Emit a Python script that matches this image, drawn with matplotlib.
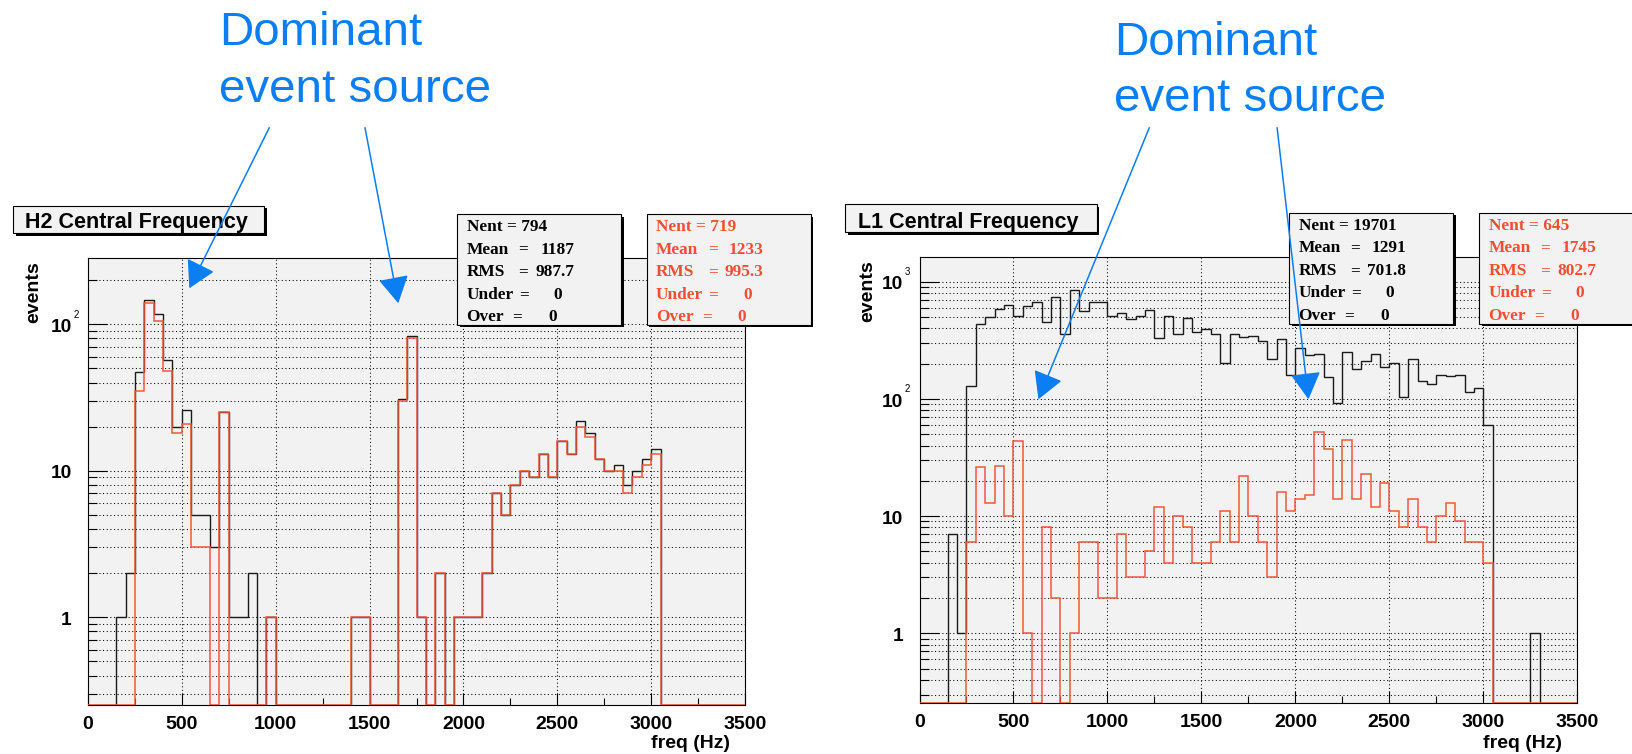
import numpy as np
import matplotlib
matplotlib.use("Agg")
import matplotlib.pyplot as plt
from matplotlib.patches import Rectangle, FancyArrowPatch
from matplotlib.ticker import LogLocator, NullFormatter, MultipleLocator, FixedLocator
from matplotlib.transforms import ScaledTranslation

# ---------------- data ----------------
bin_edges = np.arange(0, 3501, 50)          # 70 bins of 50 Hz

h2_all = [0, 0, 0, 1, 2, 47, 147, 117, 57, 20,
          26, 5, 5, 3, 25, 1, 1, 2, 0, 1,
          0, 0, 0, 0, 0, 0, 0, 0, 1, 1,
          0, 0, 0, 31, 83, 1, 0, 2, 0, 1,
          1, 1, 2, 7, 5, 8, 10, 9, 13, 9,
          16, 13, 22, 18, 12, 10, 11, 8, 10, 12,
          14, 0, 0, 0, 0, 0, 0, 0, 0, 0]
h2_sel = [0, 0, 0, 0, 0, 35, 140, 105, 48, 18,
          21, 3, 3, 0, 25, 0, 0, 0, 0, 1,
          0, 0, 0, 0, 0, 0, 0, 0, 1, 1,
          0, 0, 0, 30, 81, 1, 0, 2, 0, 1,
          1, 1, 2, 7, 5, 8, 10, 9, 13, 9,
          16, 13, 20, 17, 12, 10, 10, 7, 9, 11,
          13, 0, 0, 0, 0, 0, 0, 0, 0, 0]
l1_all = [0, 0, 0, 7, 1, 130, 435, 496, 580, 636,
          506, 620, 670, 453, 745, 357, 849, 565, 666, 666,
          509, 540, 480, 509, 569, 331, 513, 357, 486, 372,
          392, 355, 201, 357, 337, 344, 313, 217, 324, 160,
          273, 237, 243, 153, 92, 253, 179, 212, 240, 188,
          204, 104, 220, 142, 133, 160, 158, 160, 114, 125,
          60, 0, 0, 0, 0, 1, 0, 0, 0, 0]
l1_sel = [0, 0, 0, 0, 0, 6, 26, 13, 27, 10,
          44, 1, 0, 8, 2, 0, 1, 6, 6, 2,
          2, 7, 3, 3, 5, 12, 4, 10, 8, 4,
          4, 6, 11, 6, 22, 10, 6, 3, 16, 11,
          14, 15, 52, 37, 14, 45, 14, 23, 12, 19,
          11, 8, 14, 8, 6, 10, 13, 9, 6, 6,
          4, 0, 0, 0, 0, 0, 0, 0, 0, 0]

titles = ["H2 Central Frequency", "L1 Central Frequency"]
x_ticks = [0, 500, 1000, 1500, 2000, 2500, 3000, 3500]
x_title = "freq (Hz)"
y_title = "events"
annot_lines = ["Dominant", "event source"]

stat_labels = ["Mean", "RMS", "Under", "Over"]
h2_all_stats = ["Nent = 794", "1187", "987.7", "0", "0"]
h2_sel_stats = ["Nent = 719", "1233", "995.3", "0", "0"]
l1_all_stats = ["Nent = 19701", "1291", "701.8", "0", "0"]
l1_sel_stats = ["Nent = 645", "1745", "802.7", "0", "0"]

# ---------------- style ----------------
W, H, DPI = 1632, 754, 100
SANS = ["Liberation Sans", "DejaVu Sans"]
SERIF = ["Liberation Serif", "DejaVu Serif"]
BLACK = "#1a1a1a"
RED = "#f0583c"
RED_TXT = "#f04e32"
BLUE = "#0a7ef2"
FACE = "#f2f2f2"

fig = plt.figure(figsize=(W / DPI, H / DPI), dpi=DPI)


def X(x):
    return x / W


def Y(y):
    return 1 - y / H


def box(x0, y0, x1, y1, sh=2.5, z=2):
    fig.add_artist(Rectangle((X(x0 + sh), Y(y1 + sh)), (x1 - x0) / W, (y1 - y0) / H,
                             transform=fig.transFigure, facecolor="black",
                             edgecolor="none", zorder=z))
    fig.add_artist(Rectangle((X(x0), Y(y1)), (x1 - x0) / W, (y1 - y0) / H,
                             transform=fig.transFigure, facecolor=FACE,
                             edgecolor="black", lw=0.8, zorder=z + 0.1))


def stats_box(x0, y0, lines, color):
    box(x0, y0, x0 + 164, y0 + 111)
    fs = 12.4
    kw = dict(transform=fig.transFigure, fontsize=fs, fontweight="bold",
              family=SERIF, color=color, va="baseline", zorder=4)
    base = y0 + 16.9
    step = 22.6
    fig.text(X(x0 + 9.3), Y(base), lines[0], ha="left", **kw)
    eq_off = [61.0, 61.0, 61.7, 55.3]
    val_off = [116.7, 116.7, 105.0, 99.3]
    for i, lab in enumerate(stat_labels):
        yb = base + step * (i + 1)
        fig.text(X(x0 + 9.3), Y(yb), lab, ha="left", **kw)
        fig.text(X(x0 + eq_off[i]), Y(yb), "=", ha="left", **kw)
        fig.text(X(x0 + val_off[i]), Y(yb), lines[i + 1], ha="right", **kw)


def panel(rect, all_counts, sel_counts, ylim, decades, ylab_x, ylab_top,
          xtitle_right, xtitle_base):
    ax = fig.add_axes(rect)
    ax.set_facecolor(FACE)
    ax.set_yscale("log")
    ax.set_xlim(0, 3500)
    ax.set_ylim(*ylim)
    lo = ylim[0]
    a = np.asarray(all_counts, float)
    s = np.asarray(sel_counts, float)
    ax.stairs(np.where(a > 0, a, lo), bin_edges, baseline=lo, color=BLACK, lw=1.0, zorder=3)
    ax.stairs(np.where(s > 0, s, lo), bin_edges, baseline=lo, color=RED, lw=1.1, zorder=4)

    ax.yaxis.set_major_locator(LogLocator(base=10, numticks=20))
    ax.yaxis.set_minor_locator(LogLocator(base=10, subs=np.arange(2, 10), numticks=20))
    ax.yaxis.set_major_formatter(NullFormatter())
    ax.yaxis.set_minor_formatter(NullFormatter())
    ax.xaxis.set_major_locator(FixedLocator(x_ticks))
    ax.xaxis.set_minor_locator(MultipleLocator(250))
    ax.set_xticklabels([str(t) for t in x_ticks], fontsize=14, fontweight="bold", family=SANS)

    ax.tick_params(axis="y", which="major", direction="in", length=13.9, width=0.8,
                   left=True, right=False, color="black")
    ax.tick_params(axis="y", which="minor", direction="in", length=6.7, width=0.8,
                   left=True, right=False, color="black")
    ax.tick_params(axis="x", which="major", direction="in", length=8.4, width=0.8,
                   bottom=True, top=False, pad=8.0, color="black")
    ax.tick_params(axis="x", which="minor", direction="in", length=4.8, width=0.8,
                   bottom=True, top=False, color="black")

    gkw = dict(color="black", lw=0.75, linestyle=(0, (1, 2.5)))
    ax.grid(True, axis="y", which="both", **gkw)
    ax.grid(True, axis="x", which="major", **gkw)
    ax.set_axisbelow(True)
    for sp in ax.spines.values():
        sp.set_linewidth(0.8)
        sp.set_color("black")

    # y tick labels in ROOT fashion
    base_t = ax.get_yaxis_transform()
    for d in decades:
        v = 10.0 ** d
        txt = "1" if d == 0 else "10"
        tr = base_t + ScaledTranslation(-16.5 / DPI, -7.7 / DPI, fig.dpi_scale_trans)
        ax.text(0, v, txt, transform=tr, ha="right", va="baseline", fontsize=13.8,
                fontweight="bold", family=SANS, clip_on=False)
        if d >= 2:
            tr2 = base_t + ScaledTranslation(-14.5 / DPI, 6.5 / DPI, fig.dpi_scale_trans)
            ax.text(0, v, str(d), transform=tr2, ha="left", va="baseline", fontsize=7,
                    family=SANS, clip_on=False)

    fig.text(X(ylab_x), Y(ylab_top), y_title, rotation=90, ha="center", va="top",
             fontsize=14, fontweight="bold", family=SANS)
    fig.text(X(xtitle_right), Y(xtitle_base), x_title, ha="right", va="baseline",
             fontsize=14, fontweight="bold", family=SANS)
    return ax


ax1 = panel([88 / W, 1 - 705 / H, 657 / W, (705 - 258.3) / H], h2_all, h2_sel,
            (0.252, 282), [0, 1, 2], 34, 261.7, 729.6, 748)
ax2 = panel([919.5 / W, 1 - 703 / H, 657.8 / W, (703 - 257.3) / H], l1_all, l1_sel,
            (0.254, 1615), [0, 1, 2, 3], 867.4, 260, 1561.6, 748)

# title boxes
box(13.3, 205.7, 264.3, 233.3)
fig.text(X(25), Y(227.7), titles[0], ha="left", va="baseline", fontsize=15.5,
         fontweight="bold", family=SANS, zorder=4)
box(845, 204.3, 1096.8, 232.3)
fig.text(X(857.5), Y(227.7), titles[1], ha="left", va="baseline", fontsize=15.5,
         fontweight="bold", family=SANS, zorder=4)

# stats boxes
stats_box(457.3, 214, h2_all_stats, "black")
stats_box(646.7, 214, h2_sel_stats, RED_TXT)
stats_box(1289.3, 212.7, l1_all_stats, "black")
stats_box(1479.3, 212.7, l1_sel_stats, RED_TXT)

# annotations
for (x0, b1, b2) in [(219, 45, 101.7), (1114, 55, 111)]:
    fig.text(X(x0), Y(b1), annot_lines[0], ha="left", va="baseline", fontsize=34.2,
             family=SANS, color=BLUE, zorder=5)
    fig.text(X(x0), Y(b2), annot_lines[1], ha="left", va="baseline", fontsize=34.2,
             family=SANS, color=BLUE, zorder=5)

arrows = [((269.3, 127.7), (189.3, 288.3)),
          ((365.0, 127.7), (398.3, 303.3)),
          ((1149.3, 127.7), (1038.4, 399.3)),
          ((1277.1, 127.7), (1308.5, 399.3))]
for (p0, p1) in arrows:
    fig.add_artist(FancyArrowPatch((X(p0[0]), Y(p0[1])), (X(p1[0]), Y(p1[1])),
                                   transform=fig.transFigure,
                                   arrowstyle="-|>,head_length=0.8,head_width=0.45",
                                   mutation_scale=21, color=BLUE, lw=1.1,
                                   shrinkA=0, shrinkB=0, zorder=10))

fig.savefig("out.png", dpi=DPI)
